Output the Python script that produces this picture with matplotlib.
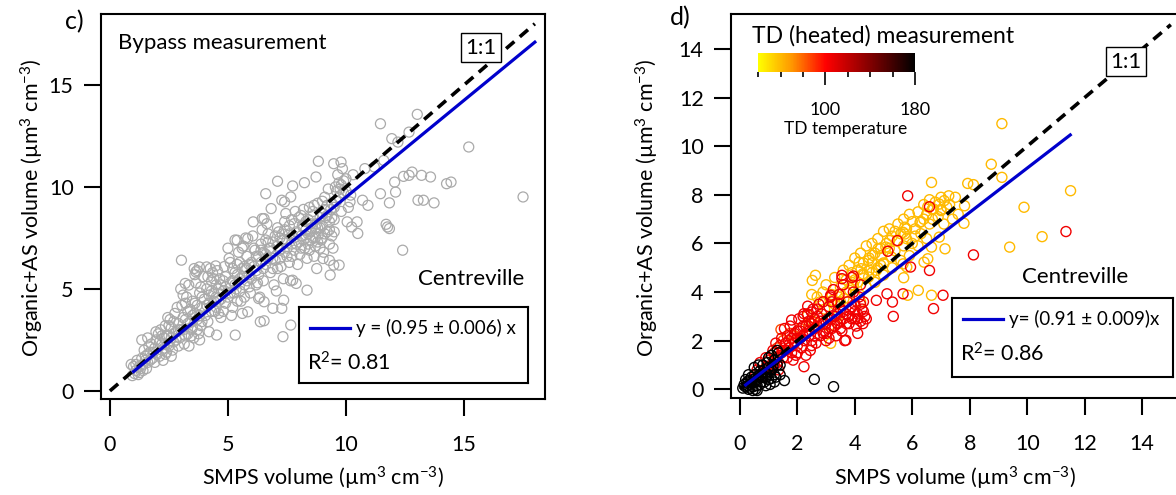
import numpy as np
import matplotlib
matplotlib.use('Agg')
import matplotlib.pyplot as plt
from matplotlib.colors import LinearSegmentedColormap
from matplotlib.ticker import MultipleLocator

plt.rcParams['font.family'] = ['Lato', 'DejaVu Sans']
plt.rcParams['mathtext.fontset'] = 'custom'
plt.rcParams['mathtext.rm'] = 'Lato'
plt.rcParams['mathtext.it'] = 'Lato'
plt.rcParams['axes.linewidth'] = 1.5

# ---- c) bypass measurement (SMPS vs organic+AS volume)
bypass_x = [
    0.95, 1.05, 1.1, 1.2, 1.0, 1.3, 1.15, 0.9,
    1.4, 1.5, 1.6, 1.45, 1.7, 1.55, 1.35, 1.8, 1.65, 1.9,
    2.0, 2.1, 2.2, 2.05, 2.3, 2.4, 2.15, 1.95, 2.35, 2.25, 2.45,
    2.5, 2.6, 2.7, 2.55, 2.8, 2.9, 2.65, 2.75, 2.95, 2.85,
    3.0, 3.1, 3.2, 3.05, 3.3, 3.4, 3.15, 3.25, 3.45, 3.35, 3.5, 3.0,
    3.6, 3.7, 3.8, 3.65, 3.9, 3.55, 3.75, 3.85, 3.95, 3.6, 3.7, 4.0, 4.05, 3.8,
    4.1, 4.2, 4.3, 4.15, 4.4, 4.25, 4.45, 4.35, 4.5, 4.2, 4.6, 4.55, 4.7, 4.65,
    4.8, 4.9, 5.0, 4.85, 5.1, 5.2, 5.05, 5.3, 5.25, 5.4, 5.35, 5.5, 5.45, 5.15, 5.55, 5.0, 5.3,
    5.6, 5.7, 5.8, 5.65, 5.9, 6.0, 5.95, 6.1, 6.2, 6.05, 6.3, 6.25, 6.4, 6.35, 6.5, 6.45, 6.15, 5.75,
    6.6, 6.7, 6.8, 6.65, 6.9, 7.0, 6.95, 7.1, 7.2, 7.05, 7.3, 7.25, 7.4, 7.35, 7.5, 7.45, 6.75, 7.15,
    7.6, 7.7, 7.8, 7.65, 7.9, 8.0, 7.95, 8.1, 8.2, 8.05, 8.3, 8.25, 8.4, 8.35, 8.5, 8.45, 7.85, 8.15, 8.55,
    8.6, 8.7, 8.8, 8.65, 8.9, 9.0, 8.95, 9.1, 9.2, 9.05, 9.3, 9.25, 9.4, 9.35, 9.5, 8.75, 9.15, 8.85, 9.45, 9.3,
    9.6, 9.7, 9.8, 9.65, 9.9, 10.0, 9.75, 9.55, 10.1, 9.85, 10.3, 10.2,
    1.1, 1.25, 1.35, 1.5, 1.6, 1.7, 1.75, 1.85, 1.9, 1.4, 1.25, 1.6, 1.95,
    2.1, 2.2, 2.3, 2.4, 2.5, 2.6, 2.7, 2.8, 2.9, 2.2, 2.5, 2.7, 2.35, 2.9, 2.6, 2.45,
    3.1, 3.2, 3.3, 3.4, 3.5, 3.6, 3.7, 3.8, 3.9, 3.3, 3.5, 3.7, 3.9, 3.2, 3.45, 3.85, 3.1,
    4.1, 4.2, 4.3, 4.4, 4.5, 4.6, 4.7, 4.8, 4.9, 4.3, 4.5, 4.7, 4.9, 4.4, 4.6, 4.8, 4.15,
    5.1, 5.2, 5.3, 5.4, 5.5, 5.6, 5.7, 5.8, 5.9, 5.2, 5.5, 5.7, 5.9, 5.4, 5.6, 5.1, 5.8,
    6.1, 6.2, 6.3, 6.4, 6.5, 6.6, 6.7, 6.8, 6.9, 6.2, 6.5, 6.7, 6.9, 6.4, 6.0, 6.6, 7.0,
    7.1, 7.2, 7.3, 7.4, 7.5, 7.6, 7.7, 7.8, 7.9, 7.2, 7.4, 7.6, 7.8, 7.1, 7.5, 8.0, 7.7,
    8.1, 8.2, 8.3, 8.4, 8.5, 8.6, 8.7, 8.8, 8.9, 8.2, 8.4, 8.6, 8.8, 8.3, 8.5, 8.7, 8.9, 8.1, 8.45, 8.65,
    9.0, 9.1, 9.2, 9.3, 9.4, 9.0, 9.2, 9.4, 9.1, 9.5, 9.6, 9.3, 9.0, 9.5, 9.7, 9.8, 9.9, 10.0,
    # sparser points around the main band
    11.46, 13.02, 12.67, 11.94, 12.2, 15.2, 11.6, 11.2, 10.8,
    12.44, 12.67, 12.8, 13.2, 13.58, 12.06, 12.1, 11.46, 11.84,
    13.05, 13.28, 13.73, 14.26, 14.45, 17.5, 10.7, 10.93,
    11.7, 11.84, 11.76, 12.4, 10.05, 10.47, 10.5, 10.24, 10.17,
    9.79, 9.48, 8.83, 8.73, 8.24, 7.74, 7.1, 6.6, 7.28, 7.4, 7.66,
    6.83, 6.53, 6.45, 6.07, 5.39, 5.84, 3.03, 3.57, 3.64, 3.79, 4.1, 4.48,
    3.19, 3.34, 5.31, 7.33, 7.66, 6.37, 6.53, 4.52, 5.61, 5.84, 7.28, 7.36,
    6.53, 6.3, 6.9, 8.35, 7.89, 7.74, 8.76, 9.33, 9.48, 9.71, 9.03,
]
bypass_y = [
    0.75, 0.85, 1.0, 0.8, 1.2, 1.1, 1.5, 1.3,
    1.3, 1.7, 1.4, 2.0, 1.9, 1.1, 2.5, 1.6, 2.2, 2.1,
    1.8, 2.4, 2.0, 2.8, 2.6, 1.9, 3.0, 2.5, 3.2, 1.5, 2.3,
    2.7, 3.1, 2.4, 3.5, 2.9, 3.3, 2.0, 3.8, 2.6, 4.1,
    3.0, 3.6, 2.7, 4.2, 3.3, 4.0, 2.3, 4.6, 3.0, 2.2, 3.7, 5.0,
    4.3, 3.5, 4.8, 5.3, 4.1, 2.6, 2.8, 3.2, 5.6, 5.7, 5.9, 4.5, 3.7, 2.5,
    5.0, 4.3, 5.4, 3.4, 4.8, 6.0, 3.9, 5.8, 5.2, 2.9, 4.4, 5.9, 3.6, 5.5,
    4.9, 5.6, 4.6, 6.1, 5.3, 4.1, 6.5, 5.8, 4.8, 6.2, 5.0, 5.5, 6.8, 3.7, 4.4, 7.0, 7.4,
    6.0, 5.2, 6.6, 7.1, 5.7, 6.3, 4.8, 7.0, 5.9, 7.6, 6.6, 5.3, 7.2, 4.6, 6.0, 7.9, 6.9, 7.5,
    6.7, 7.3, 5.8, 8.2, 6.5, 7.6, 5.2, 8.0, 6.9, 4.9, 7.4, 6.1, 8.3, 5.5, 7.0, 8.7, 7.0, 7.8,
    7.7, 6.6, 8.2, 5.4, 7.2, 8.5, 6.2, 7.6, 8.9, 6.7, 7.9, 7.0, 8.4, 6.5, 7.4, 9.0, 8.8, 8.1, 8.0,
    8.6, 7.1, 9.2, 6.6, 8.0, 8.7, 7.4, 9.5, 7.8, 6.8, 8.3, 9.9, 7.6, 8.9, 8.4, 8.2, 8.5, 7.7, 7.0, 6.4,
    9.3, 10.2, 8.8, 10.6, 9.7, 10.4, 9.9, 10.0, 9.0, 10.9, 10.6, 9.6,
    1.3, 1.2, 1.6, 1.5, 1.8, 1.5, 2.3, 1.9, 1.4, 1.0, 0.9, 2.6, 2.9,
    1.7, 2.3, 2.1, 2.7, 2.2, 2.6, 2.8, 2.5, 3.0, 2.7, 3.2, 3.4, 1.8, 2.2, 1.7, 3.6,
    3.0, 3.5, 2.8, 3.4, 3.1, 3.8, 4.2, 3.7, 3.4, 3.9, 4.4, 3.0, 4.6, 4.3, 2.7, 5.1, 4.7,
    4.2, 4.7, 3.9, 4.4, 4.6, 5.0, 4.5, 5.4, 4.3, 4.9, 4.1, 5.2, 5.1, 5.5, 3.8, 3.9, 5.6,
    4.8, 5.4, 5.2, 5.7, 4.9, 5.6, 6.1, 5.4, 6.2, 6.0, 6.3, 4.6, 5.1, 4.4, 7.0, 6.3, 6.0,
    6.1, 6.6, 5.7, 6.3, 6.8, 6.2, 6.5, 7.0, 6.0, 5.2, 5.4, 7.7, 7.3, 6.9, 5.5, 7.4, 6.4,
    7.1, 6.5, 7.7, 6.8, 7.4, 8.1, 7.2, 6.9, 7.8, 7.5, 7.9, 6.3, 7.5, 6.0, 6.6, 7.3, 8.4,
    7.0, 7.4, 8.3, 7.7, 8.2, 7.5, 8.0, 7.3, 8.5, 8.0, 7.2, 8.8, 8.0, 7.5, 7.8, 7.5, 7.0, 8.6, 6.9, 9.1,
    8.1, 7.7, 8.6, 7.9, 8.5, 7.5, 9.1, 9.2, 8.9, 9.0, 9.8, 7.2, 9.3, 7.8, 9.5, 10.1, 10.3, 9.8,
    13.1, 13.56, 12.69, 12.37, 12.2, 11.96, 11.3, 10.98, 10.9,
    10.52, 10.57, 10.73, 10.57, 10.49, 10.24, 9.75, 9.67, 9.22,
    9.35, 9.35, 9.22, 10.16, 10.24, 9.51, 9.35, 9.1,
    8.17, 7.96, 8.04, 6.9, 8.29, 8.29, 7.72, 8.04, 9.27,
    11.22, 11.14, 11.26, 10.49, 10.21, 10.05, 10.28, 9.67, 9.35, 9.27, 9.51,
    8.94, 8.45, 8.45, 8.29, 7.39, 7.47, 6.41, 6.0, 5.84, 6.08, 6.08, 6.13,
    5.27, 5.19, 2.74, 2.66, 3.23, 3.39, 3.44, 2.74, 3.8, 3.88, 4.05, 4.45,
    4.37, 4.53, 4.05, 4.94, 5.27, 5.43, 6.0, 5.68, 6.17, 6.17, 6.49,
]
bypass_slope = 0.95
bypass_fit_x = [1.0, 18.0]

# ---- d) TD (heated) measurement, grouped by TD temperature
td_low_x = [2.5, 2.8, 3.0, 3.2, 3.3, 3.5, 3.6, 3.7, 3.8, 3.9, 4.0, 4.1, 4.2, 4.3, 4.4,
            4.5, 4.6, 4.7, 4.8, 4.9, 5.0, 5.1, 5.2, 5.3, 5.4, 5.5, 5.6, 5.7, 5.8, 5.9,
            6.0, 6.1, 6.2, 6.3, 6.4, 6.5, 6.6, 6.7, 6.8, 6.9, 7.0, 7.2, 7.4, 7.5,
            4.0, 4.4, 4.7, 5.0, 5.3, 5.6, 5.9, 6.2, 6.5, 4.2, 3.4, 3.1, 4.5, 4.9,
            3.7, 4.0, 4.3, 4.6, 4.9, 5.2, 5.5, 5.8, 6.1, 6.4, 6.7, 7.0, 7.3, 7.6,
            3.5, 3.9, 4.8, 5.4, 6.0, 6.3, 7.1, 5.0, 4.1, 5.7, 6.6, 3.3, 2.95, 4.6,
            9.12, 8.75, 9.12, 7.93, 8.13, 6.67, 11.51, 9.89, 10.52, 9.39, 7.8, 7.82,
            7.27, 7.11, 6.94, 6.74, 7.0, 6.54, 6.27, 5.74, 5.68, 5.74, 6.94, 6.67,
            7.14, 6.54, 6.41, 6.21, 5.84, 6.67, 5.7, 5.81, 5.68, 5.21, 5.08, 4.81,
            4.62, 4.48, 4.15, 4.22, 2.52, 2.63, 2.89, 2.69, 3.22, 3.42, 3.62, 3.82,
            3.95, 4.28, 4.48, 4.75, 5.01, 5.28, 3.16, 2.36, 2.49]
td_low_y = [3.9, 3.6, 4.3, 3.9, 4.6, 4.2, 4.9, 4.5, 5.1, 4.8, 5.4, 4.9, 5.6, 5.2, 5.9,
            5.4, 6.0, 5.6, 6.2, 5.8, 6.5, 6.0, 6.6, 6.3, 5.7, 6.8, 6.4, 7.0, 6.6, 7.2,
            6.9, 6.3, 7.3, 6.9, 7.6, 7.2, 7.8, 7.4, 7.7, 7.1, 7.9, 7.5, 7.0, 7.9,
            3.9, 4.2, 4.4, 4.7, 5.0, 5.3, 5.5, 5.9, 6.2, 3.6, 3.0, 2.6, 4.9, 5.1,
            4.0, 4.5, 4.7, 5.2, 5.5, 5.8, 6.1, 6.2, 6.6, 7.0, 7.0, 7.4, 7.6, 7.2,
            3.6, 4.3, 5.0, 6.5, 6.0, 6.4, 6.8, 5.2, 4.4, 5.9, 6.8, 3.5, 3.3, 4.8,
            10.93, 9.26, 8.72, 8.47, 8.42, 8.51, 8.17, 7.49, 6.28, 5.85, 6.83, 7.55,
            7.96, 7.76, 7.62, 7.42, 7.35, 7.51, 6.87, 6.67, 6.46, 6.39, 6.26, 5.85,
            5.78, 5.37, 5.23, 4.07, 3.87, 3.87, 4.59, 5.03, 5.16, 6.12, 5.85, 5.78,
            5.51, 5.3, 5.23, 4.96, 4.48, 4.69, 4.0, 3.8, 3.66, 3.59, 3.73, 4.07,
            4.28, 4.75, 4.62, 4.89, 5.16, 5.44, 1.89, 3.05, 2.84]
td_low_temp = 60

td_mid_x = [1.0, 1.1, 1.2, 1.3, 1.4, 1.5, 1.35, 1.25, 1.45, 1.55, 1.6, 1.15,
            1.7, 1.8, 1.9, 2.0, 1.75, 2.1, 1.85, 2.2, 2.05, 1.95, 2.15, 2.0, 1.65, 2.25, 1.8,
            2.3, 2.4, 2.5, 2.35, 2.6, 2.7, 2.45, 2.8, 2.55, 2.9, 2.65, 2.75, 2.95, 2.85,
            2.3, 2.6, 3.0, 2.4,
            3.05, 3.1, 3.2, 3.3, 3.15, 3.4, 3.5, 3.35, 3.6, 3.45, 3.7, 3.55, 3.75, 3.25,
            3.65, 3.8, 3.4, 3.1,
            3.85, 3.9, 4.0, 4.05, 4.1, 4.15, 4.2, 4.25, 4.3, 4.1, 4.35, 3.95, 4.2, 3.9,
            0.6, 0.7, 0.8, 0.9, 0.75, 0.55,
            1.5, 1.6, 1.7, 1.8, 1.9, 2.0, 2.1, 2.2, 2.3, 2.4, 2.5, 2.6, 2.7, 2.8, 2.9,
            3.0, 3.1, 3.2, 3.3, 3.4, 3.5, 3.6, 3.7, 3.8, 3.9, 4.0, 4.1, 4.2, 4.3, 4.4,
            2.0, 2.5, 3.0, 3.5, 4.0, 2.2, 2.7, 3.2, 3.6, 2.9, 1.3, 1.2, 1.45, 1.65, 1.0,
            5.84, 6.6, 5.48, 5.15, 8.13, 11.35, 5.94, 6.6, 5.68, 7.07, 5.31, 5.34,
            6.74, 5.12, 4.75, 3.55, 3.55, 3.95, 3.16, 2.36, 2.23, 2.49, 2.23, 3.69,
            4.28]
td_mid_y = [1.2, 0.9, 1.5, 1.1, 1.8, 1.3, 0.8, 1.9, 2.1, 2.5, 1.6, 1.6,
            2.0, 1.5, 2.3, 1.8, 2.6, 2.1, 1.2, 2.6, 2.9, 1.4, 1.7, 2.4, 2.2, 2.0, 2.85,
            2.3, 2.8, 2.0, 3.1, 2.5, 3.0, 1.6, 2.2, 3.3, 2.7, 1.9, 3.5, 2.4, 3.1,
            1.4, 2.9, 2.0, 2.2,
            2.9, 3.4, 2.5, 3.0, 3.8, 2.7, 3.3, 2.2, 2.9, 3.9, 3.1, 2.4, 3.6, 4.1,
            2.0, 2.7, 3.55, 2.1,
            3.3, 2.9, 3.5, 2.6, 3.1, 3.8, 2.8, 3.3, 3.6, 2.3, 3.0, 4.0, 4.3, 4.6,
            0.8, 1.1, 0.7, 1.3, 0.5, 0.6,
            1.6, 1.9, 1.7, 2.1, 1.9, 2.1, 2.4, 2.2, 2.6, 2.4, 2.7, 2.2, 2.6, 2.8, 2.3,
            2.7, 2.5, 2.9, 2.6, 3.1, 2.8, 3.2, 2.7, 3.0, 3.4, 3.2, 2.9, 3.5, 3.2, 2.9,
            1.5, 1.8, 2.3, 2.5, 2.9, 3.0, 3.3, 3.6, 4.3, 3.6, 1.3, 1.0, 1.5, 1.3, 0.95,
            7.96, 7.51, 6.12, 5.68, 5.53, 6.49, 5.03, 4.89, 3.93, 3.87, 3.59, 3.0,
            3.32, 3.93, 3.66, 4.69, 4.55, 4.66, 3.87, 3.42, 3.11, 3.18, 0.93, 2.02,
            2.7]
td_mid_temp = 105

td_warm_x = [1.43, 1.5, 1.3, 1.6, 1.2, 1.75, 1.9, 2.1, 2.4, 2.6, 1.1, 0.9]
td_warm_y = [2.46, 2.0, 1.7, 1.9, 1.3, 2.3, 2.2, 2.5, 2.6, 2.75, 1.0, 0.9]
td_warm_temp = 85

td_high_x = [0.1, 0.2, 0.25, 0.3, 0.35, 0.4, 0.45, 0.5, 0.5, 0.55, 0.6, 0.65, 0.7,
             0.75, 0.8, 0.85, 0.9, 0.95, 1.0, 1.05, 1.1, 1.1, 1.2, 1.25, 1.3, 1.35,
             1.4, 0.6, 0.45, 1.55, 2.59, 3.26, 0.3, 0.2, 0.9, 1.2,
             0.15, 0.3, 0.4, 0.5, 0.55, 0.65, 0.7, 0.8, 0.85, 0.95, 1.0, 1.05,
             1.15, 1.2, 1.3, 1.0, 0.75, 0.9, 0.35, 0.6, 1.1, 1.4, 0.25, 0.45]
td_high_y = [0.05, 0.1, 0.3, 0.0, 0.2, 0.5, 0.1, 0.3, 0.9, 0.0, 0.4, 1.0, 0.2,
             0.6, 1.0, 0.3, 0.7, 1.1, 0.4, 0.2, 0.8, 1.4, 1.2, 0.5, 1.6, 1.5,
             0.6, -0.05, -0.05, 0.36, 0.41, 0.11, 0.6, 0.4, 0.15, 0.3,
             0.2, 0.35, 0.25, 0.6, 0.45, 0.55, 0.75, 0.5, 0.8, 0.6, 0.9, 0.7,
             0.95, 0.6, 1.0, 1.3, 0.3, 0.45, 0.05, 0.15, 0.45, 1.0, 0.15, 0.4]
td_high_temp = 180

td_slope = 0.91
td_fit_x = [0.2, 11.5]

td_cmap = LinearSegmentedColormap.from_list(
    'td', [(0.0, '#ffff00'), (0.214, '#ff9600'), (0.43, '#ff0000'),
           (0.714, '#820000'), (1.0, '#000000')])
t_min, t_max = 40, 180

fig = plt.figure(figsize=(11.76, 4.95), dpi=100)
W, H = 1176, 495


def box_axes(l, t, r, b):
    return fig.add_axes([l / W, 1 - b / H, (r - l) / W, (b - t) / H])


def ftext(x, y, s, **kw):
    return fig.text(x / W, 1 - y / H, s, **kw)


def style(ax):
    ax.tick_params(direction='out', width=1.5, length=12.5, labelsize=15.5)
    ax.tick_params(axis='x', pad=13)
    ax.tick_params(axis='y', pad=7)


ax1 = box_axes(100.7, 14, 545, 399.3)
ax2 = box_axes(730.7, 14, 1178, 398.3)

# left panel
ax1.scatter(bypass_x, bypass_y, s=52, facecolors='none', edgecolors='#aaaaaa', linewidths=0.9, zorder=2)
ax1.plot([0, 18], [0, 18], color='black', lw=2.6, ls=(0, (3, 2)), zorder=3)
fx = np.array(bypass_fit_x)
ax1.plot(fx, bypass_slope * fx, color='#0000cc', lw=2.3, zorder=4)
ax1.set_xlim(-0.39, 18.43)
ax1.set_ylim(-0.41, 18.48)
ax1.xaxis.set_major_locator(MultipleLocator(5))
ax1.yaxis.set_major_locator(MultipleLocator(5))
style(ax1)

# right panel, one colour per TD temperature group
for xs, ys, t in [(td_low_x, td_low_y, td_low_temp), (td_warm_x, td_warm_y, td_warm_temp),
                  (td_mid_x, td_mid_y, td_mid_temp), (td_high_x, td_high_y, td_high_temp)]:
    ax2.scatter(xs, ys, s=52, facecolors='none',
                edgecolors=td_cmap((t - t_min) / (t_max - t_min)), linewidths=1.0, zorder=2)
ax2.plot([0, 15], [0, 15], color='black', lw=2.6, ls=(0, (3, 2)), zorder=3)
fx = np.array(td_fit_x)
ax2.plot(fx, td_slope * fx, color='#0000cc', lw=2.3, zorder=4)
ax2.set_xlim(-0.32, 15.25)
ax2.set_ylim(-0.37, 15.44)
ax2.xaxis.set_major_locator(MultipleLocator(2))
ax2.yaxis.set_major_locator(MultipleLocator(2))
style(ax2)

# colour scale for TD temperature
cax = box_axes(758.3, 53.3, 915, 71.7)
sm = plt.cm.ScalarMappable(cmap=td_cmap, norm=plt.Normalize(t_min, t_max))
cb = fig.colorbar(sm, cax=cax, orientation='horizontal')
cb.outline.set_visible(False)
cb.set_ticks([100, 180])
cax.xaxis.set_minor_locator(MultipleLocator(20))
cax.tick_params(which='major', direction='out', length=9.5, width=1.2, labelsize=13, pad=12)
cax.tick_params(which='minor', direction='out', length=3.8, width=1.2)
ftext(846, 129, 'TD temperature', fontsize=12.5, ha='center', va='center')

# labels and annotations
ftext(74, 22, 'c)', fontsize=18, ha='center', va='center')
ftext(680, 18, 'd)', fontsize=18, ha='center', va='center')
ftext(118, 43, 'Bypass measurement', fontsize=16, ha='left', va='center')
ftext(752, 36, 'TD (heated) measurement', fontsize=16.5, ha='left', va='center')
for x, y in [(481, 47.5), (1126, 61.5)]:
    ftext(x, y, '1:1', fontsize=16, ha='center', va='center',
          bbox=dict(boxstyle='square,pad=0.2', fc='white', ec='black', lw=1.0))
ftext(524, 279, 'Centreville', fontsize=16, ha='right', va='center')
ftext(1128, 277, 'Centreville', fontsize=16, ha='right', va='center')

xlab = r'SMPS volume (µm$^{3}$ cm$^{-3}$)'
ylab = r'Organic+AS volume (µm$^{3}$ cm$^{-3}$)'
ftext(323, 478, xlab, fontsize=15.5, ha='center', va='center')
ftext(955, 478, xlab, fontsize=15.5, ha='center', va='center')
ftext(32, 208, ylab, fontsize=15.5, ha='center', va='center', rotation=90)
ftext(647, 208, ylab, fontsize=15.5, ha='center', va='center', rotation=90)

# fit legend boxes
for (l, t, r, b), eq, r2 in [((299, 307, 528, 383), 'y = (0.95 ± 0.006) x', r'R$^{2}$= 0.81'),
                             ((952, 298, 1173, 377), 'y= (0.91 ± 0.009)x', r'R$^{2}$= 0.86')]:
    lax = box_axes(l, t, r, b)
    lax.set_xlim(0, r - l)
    lax.set_ylim(b - t, 0)
    lax.set_xticks([])
    lax.set_yticks([])
    for sp in lax.spines.values():
        sp.set_linewidth(1.5)
    lax.plot([11, 51], [21, 21], color='#0000cc', lw=2.3)
    lax.text(57, 21, eq, fontsize=13.5, ha='left', va='center')
    lax.text(8, 56, r2, fontsize=15.5, ha='left', va='center')

fig.savefig('out.png', dpi=100)
